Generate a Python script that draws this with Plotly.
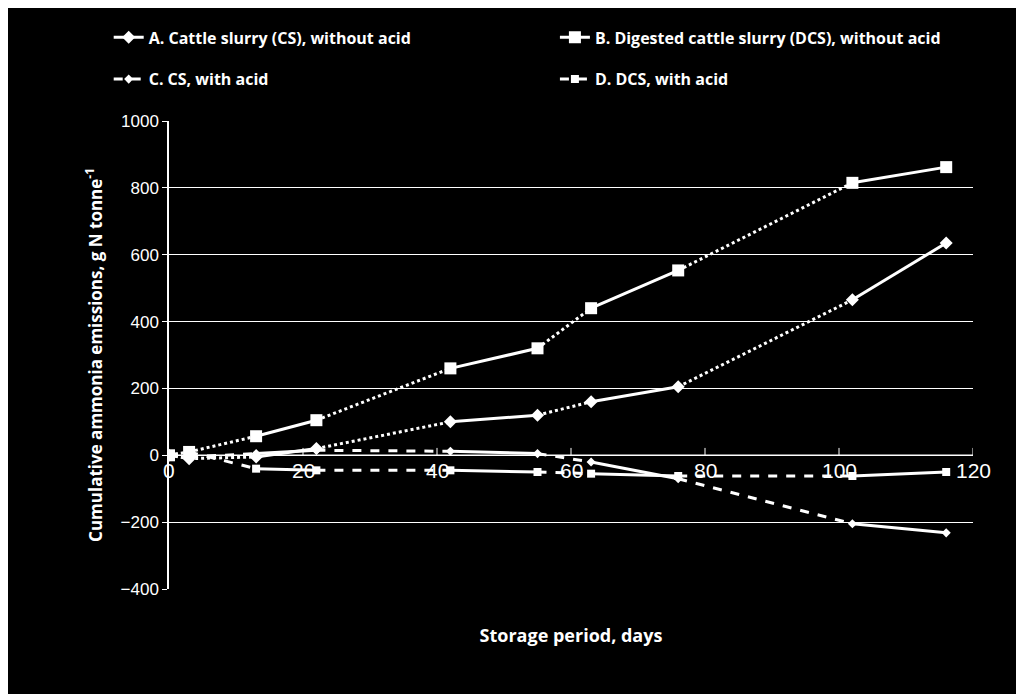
import plotly.graph_objects as go

days = [0, 3, 13, 22, 42, 55, 63, 76, 102, 116]
a_cs = [0, -10, -5, 20, 100, 120, 160, 205, 465, 635]
b_dcs = [0, 10, 57, 105, 260, 320, 440, 553, 815, 862]
c_cs_acid = [0, -5, 5, 15, 12, 5, -20, -70, -205, -232]
d_dcs_acid = [0, 10, -40, -45, -45, -50, -55, -62, -62, -50]
names = ["A. Cattle slurry (CS), without acid", "B. Digested cattle slurry (DCS), without acid",
         "C. CS, with acid", "D. DCS, with acid"]
x_ticks = [0, 20, 40, 60, 80, 100, 120]
y_ticks = [-400, -200, 0, 200, 400, 600, 800, 1000]

series = [
    (a_cs, "diamond", 10, "dot", "legend"),
    (b_dcs, "square", 12, "dot", "legend2"),
    (c_cs_acid, "diamond", 7, "dash", "legend"),
    (d_dcs_acid, "square", 8, "dash", "legend2"),
]

fig = go.Figure()
for i, (vals, sym, sz, alt, leg) in enumerate(series):
    for k in range(len(days) - 1):
        dash = "solid" if k % 2 == 0 and k > 0 else alt
        fig.add_trace(go.Scatter(x=days[k:k+2], y=vals[k:k+2], mode="lines",
                                 line=dict(color="white", width=3, dash=dash),
                                 showlegend=False, hoverinfo="skip"))
    fig.add_trace(go.Scatter(x=days, y=vals, mode="markers", name=names[i],
                             marker=dict(symbol=sym, size=sz, color="white"),
                             showlegend=False))
    fig.add_trace(go.Scatter(x=[None], y=[None], mode="lines+markers", name="<b>" + names[i] + "</b>",
                             legend=leg, legendgroup=f"g{i}",
                             line=dict(color="white", width=3, dash="solid" if i < 2 else "dash"),
                             marker=dict(symbol=sym, size=sz, color="white")))

for t in x_ticks:
    fig.add_annotation(x=t, y=0, text=str(t), showarrow=False, yanchor="top", yshift=-2,
                       font=dict(family="Liberation Sans", size=21, color="white"))
fig.add_shape(type="line", x0=0, x1=120, y0=0, y1=0, line=dict(color="white", width=1.5))
for t in x_ticks[1:]:
    fig.add_shape(type="line", x0=t, x1=t, y0=0, y1=22, line=dict(color="white", width=1))

legfont = dict(family="Open Sans", size=16, color="white")
fig.update_layout(
    width=1024, height=694, paper_bgcolor="black", plot_bgcolor="black",
    margin=dict(l=161, r=59, t=113, b=113, autoexpand=False),
    xaxis=dict(range=[0, 120], showticklabels=False, showgrid=False, zeroline=False,
               title=dict(text="<b>Storage period, days</b>", standoff=40,
                          font=dict(family="Open Sans", size=18, color="white"))),
    yaxis=dict(range=[-400, 1000], tickvals=y_ticks, showgrid=True, gridcolor="white",
               gridwidth=1, zeroline=False, showline=True, linecolor="white", linewidth=1.5,
               ticks="outside", tickcolor="white", ticklen=5,
               tickfont=dict(family="Liberation Sans", size=17, color="white"),
               title=dict(text="<b>Cumulative ammonia emissions, g N tonne<sup>-1</sup></b>",
                          standoff=14, font=dict(family="Open Sans", size=17, color="white"))),
    legend=dict(x=-0.075, y=1.215, xanchor="left", yanchor="top", tracegroupgap=18,
                font=legfont, bgcolor="rgba(0,0,0,0)"),
    legend2=dict(x=0.48, y=1.215, xanchor="left", yanchor="top", tracegroupgap=18,
                 font=legfont, bgcolor="rgba(0,0,0,0)"),
)
fig.write_html("out.html")
